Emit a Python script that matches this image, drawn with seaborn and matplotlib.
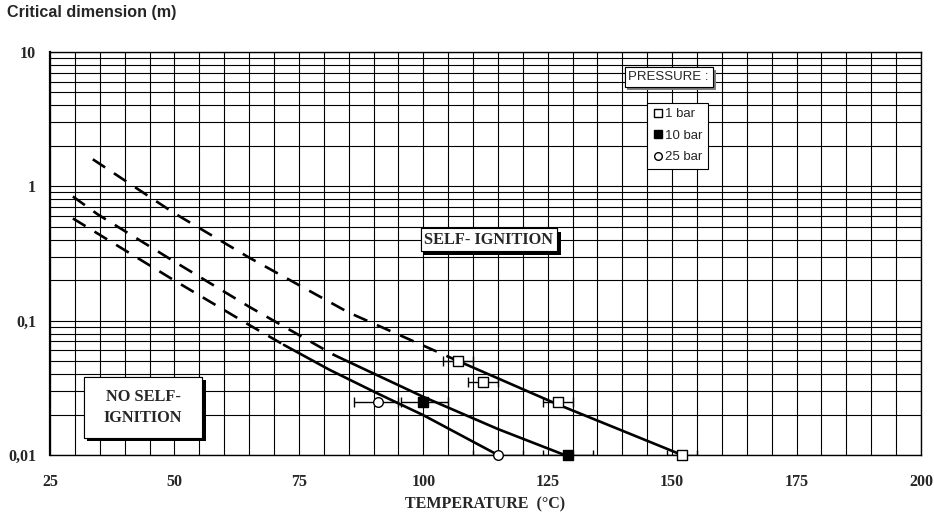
import matplotlib
matplotlib.use("Agg")
import matplotlib.pyplot as plt
import matplotlib.patheffects as pe
from matplotlib.patches import Rectangle
from matplotlib.ticker import MultipleLocator, FixedLocator, NullFormatter
import numpy as np
import pandas as pd
import seaborn as sns

# ---- data ----
series_names = ["1 bar", "10 bar", "25 bar"]

temp_1bar = [107, 112, 127, 152]
dim_1bar = [0.05, 0.035, 0.025, 0.01]
xerr_lo_1bar = [3, 3, 3, 3]
xerr_hi_1bar = [3, 3, 3, 3]

temp_10bar = [100, 129]
dim_10bar = [0.025, 0.01]
xerr_lo_10bar = [4.5, 5]
xerr_hi_10bar = [5, 5]

temp_25bar = [91, 115]
dim_25bar = [0.025, 0.01]
xerr_lo_25bar = [5, 5]
xerr_hi_25bar = [4, 5]

# fitted curves (dashed = extrapolation, solid = measured range)
curve_1bar_T = [33.6, 50, 65, 85, 106, 127, 152]
curve_1bar_D = [1.59, 0.63, 0.295, 0.115, 0.052, 0.0238, 0.01]
split_1bar = 106

curve_10bar_T = [29.6, 34.6, 50, 65, 82, 100, 115, 128.4]
curve_10bar_D = [0.84, 0.618, 0.275, 0.127, 0.0557, 0.0271, 0.0156, 0.01]
split_10bar = 82

curve_25bar_T = [29.6, 50, 65, 72, 81.2, 91, 100, 115]
curve_25bar_D = [0.577, 0.199, 0.093, 0.066, 0.043, 0.0285, 0.0198, 0.01]
split_25bar = 72

y_ticks = [0.01, 0.1, 1, 10]
y_tick_labels = ["0,01", "0,1", "1", "10"]
x_ticks = [25, 50, 75, 100, 125, 150, 175, 200]

# ---- figure ----
sns.set_theme(style="white")
plt.rcParams["font.family"] = ["Liberation Serif", "DejaVu Serif"]

fig = plt.figure(figsize=(9.34, 5.27), dpi=100)
ax = fig.add_axes([50 / 934, 1 - 455 / 527, 871 / 934, 403 / 527])

ax.set_yscale("log")
ax.set_xlim(25, 200)
ax.set_ylim(0.01, 10)

# grid
ax.xaxis.set_major_locator(FixedLocator(x_ticks))
ax.xaxis.set_minor_locator(MultipleLocator(5))
ax.yaxis.set_major_locator(FixedLocator(y_ticks))
ax.yaxis.set_minor_locator(FixedLocator(
    [m * 10.0 ** e for e in (-2, -1, 0) for m in range(2, 10)]))
ax.yaxis.set_minor_formatter(NullFormatter())
ax.set_yticklabels(y_tick_labels)
ax.set_xticklabels([str(v) for v in x_ticks])
ax.grid(True, which="both", color="black", linewidth=0.8)
ax.set_axisbelow(True)

ax.tick_params(axis="both", which="major", direction="out", length=5,
               width=1, color="black", labelsize=11.5, pad=5)
ax.tick_params(axis="both", which="minor", length=0)
for lab in ax.get_xticklabels() + ax.get_yticklabels():
    lab.set_fontweight("bold")
ax.tick_params(axis="x", pad=9)

for side, sp in ax.spines.items():
    sp.set_color("black")
    sp.set_linewidth(1.0)
ax.spines["left"].set_linewidth(1.6)

LW = 1.9
dash = (0, (5.6, 4.0))


def draw_curve(T, D, split):
    df = pd.DataFrame({"T": T, "D": D})
    dashed = df[df["T"] <= split]
    solid = df[df["T"] >= split]
    sns.lineplot(data=dashed, x="T", y="D", ax=ax, color="black",
                 linewidth=LW, linestyle=dash, estimator=None, sort=False,
                 legend=False)
    sns.lineplot(data=solid, x="T", y="D", ax=ax, color="black",
                 linewidth=LW, estimator=None, sort=False, legend=False)


draw_curve(curve_1bar_T, curve_1bar_D, split_1bar)
draw_curve(curve_10bar_T, curve_10bar_D, split_10bar)
draw_curve(curve_25bar_T, curve_25bar_D, split_25bar)

# error bars
for T, D, lo, hi in [(temp_1bar, dim_1bar, xerr_lo_1bar, xerr_hi_1bar),
                     (temp_10bar, dim_10bar, xerr_lo_10bar, xerr_hi_10bar),
                     (temp_25bar, dim_25bar, xerr_lo_25bar, xerr_hi_25bar)]:
    ax.errorbar(T, D, xerr=[lo, hi], fmt="none", ecolor="black",
                elinewidth=1.0, capsize=3.5, capthick=1.0, zorder=3)

# markers
pts = pd.DataFrame({
    "T": temp_1bar + temp_10bar + temp_25bar,
    "D": dim_1bar + dim_10bar + dim_25bar,
    "P": [series_names[0]] * len(temp_1bar) + [series_names[1]] * len(temp_10bar)
         + [series_names[2]] * len(temp_25bar),
})
handles = []
styles = {
    "1 bar": dict(marker="s", facecolor="white", s=56),
    "10 bar": dict(marker="s", facecolor="black", s=56),
    "25 bar": dict(marker="o", facecolor="white", s=48),
}
for name in series_names:
    sub = pts[pts["P"] == name]
    st = styles[name]
    sns.scatterplot(data=sub, x="T", y="D", ax=ax, marker=st["marker"],
                    color=st["facecolor"], edgecolor="black", linewidth=1.0,
                    s=st["s"], zorder=5, legend=False, clip_on=False)
    handles.append(plt.Line2D([], [], linestyle="none", marker=st["marker"],
                              markerfacecolor=st["facecolor"],
                              markeredgecolor="black", markeredgewidth=1.0,
                              markersize=6 if st["marker"] == "s" else 5.5,
                              label=name))

leg = ax.legend(handles=handles, loc="upper left",
                bbox_to_anchor=(0.685, 0.874), frameon=True, fancybox=False,
                edgecolor="black", framealpha=1, borderpad=0.4,
                handletextpad=0.1, handlelength=0.9, labelspacing=0.7,
                borderaxespad=0,
                prop={"family": "Liberation Sans", "size": 9.5})
leg.get_frame().set_linewidth(0.8)
leg.set_zorder(10)

shadow = [pe.withSimplePatchShadow(offset=(2.5, -2.5), shadow_rgbFace="black",
                                   alpha=1.0), pe.Normal()]

t1 = ax.text(113.2, 0.40, "SELF- IGNITION", ha="center", va="center",
             fontsize=11.8, fontweight="bold", zorder=10,
             bbox=dict(boxstyle="square,pad=0.22", facecolor="white",
                       edgecolor="black", linewidth=0.8))
t1.get_bbox_patch().set_path_effects(shadow)

# "NO SELF-IGNITION" box (annotation frame)
box = Rectangle((31.8, 0.0134), 55.55 - 31.8, 0.0381 - 0.0134,
                facecolor="white", edgecolor="black", linewidth=0.8,
                zorder=9)
box.set_path_effects(shadow)
ax.add_patch(box)
ax.text(43.7, 0.0226, "NO SELF-\nIGNITION", ha="center", va="center",
        fontsize=11.8, fontweight="bold", zorder=10, linespacing=1.4)

shadow_g = [pe.withSimplePatchShadow(offset=(2, -2), shadow_rgbFace="#808080",
                                     alpha=1.0), pe.Normal()]
t3 = ax.text(149.3, 6.5, "PRESSURE :", ha="center", va="center",
             fontsize=9.5, family="Liberation Sans", zorder=10,
             bbox=dict(boxstyle="square,pad=0.3", facecolor="white",
                       edgecolor="black", linewidth=0.8))
t3.get_bbox_patch().set_path_effects(shadow_g)

ax.set_xlabel("TEMPERATURE  (°C)", fontsize=11.5, fontweight="bold", labelpad=4)
ax.set_ylabel("")

fig.text(7 / 934, 1 - 13 / 527, "Critical dimension (m)", ha="left",
         va="center", fontsize=11.6, fontweight="bold", family="Liberation Sans")

fig.savefig("out.png", dpi=100, facecolor="white")
